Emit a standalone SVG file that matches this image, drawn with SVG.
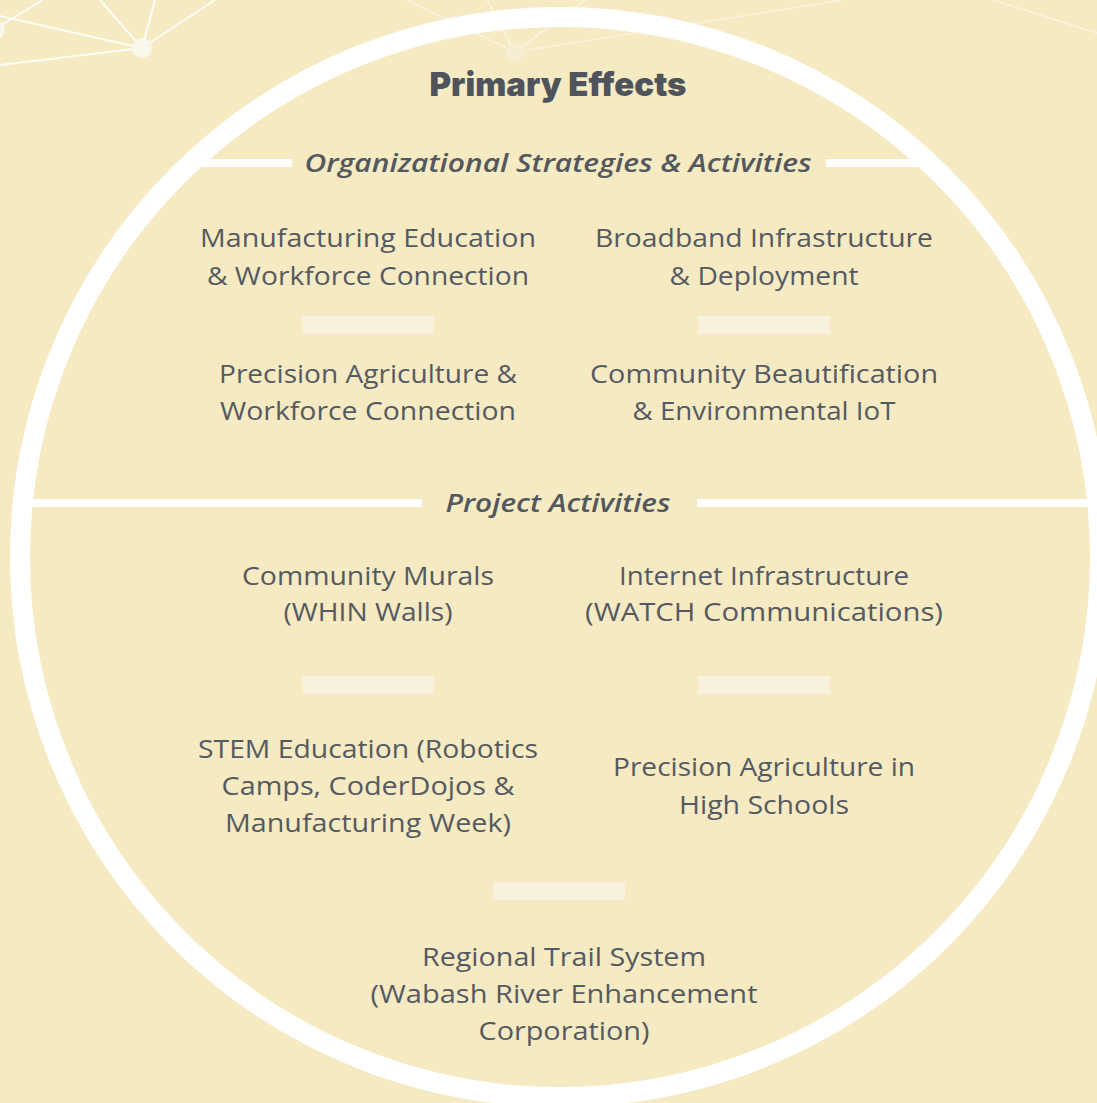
<svg xmlns="http://www.w3.org/2000/svg" width="1097" height="1103" viewBox="0 0 1097 1103">
  <style>
    .bg { fill: #F5EAC2; }
    .net1 { stroke: #FFFFFF; stroke-opacity: 0.85; stroke-width: 2; fill: none; }
    .net2 { stroke: #FFFFFF; stroke-opacity: 0.5; stroke-width: 1.6; fill: none; }
    .dot1 { fill: #FAF7EC; }
    .dot2 { fill: #F6EDD2; }
    .ring { fill: none; stroke: #FFFFFF; stroke-width: 20; }
    .rule { stroke: #FFFFFF; stroke-width: 8; }
    .bar { fill: #F8F1DD; }
    .title { font-family: Inter, "Open Sans", "Liberation Sans", sans-serif; font-weight: 900; font-size: 33px; fill: #4F545C; text-anchor: middle; }
    .head { font-family: "Open Sans", "Noto Sans", "Liberation Sans", sans-serif; font-weight: 600; font-style: italic; font-size: 26px; fill: #53585F; text-anchor: middle; }
    .body { font-family: "Open Sans", "Noto Sans", "Liberation Sans", sans-serif; font-weight: 400; font-size: 25px; fill: #555A62; text-anchor: middle; }
  </style>
  <rect class="bg" x="0" y="0" width="1097" height="1103"/>

  <g id="network">
    <line class="net1" x1="0" y1="16" x2="142" y2="48"/>
    <line class="net1" x1="0" y1="65" x2="142" y2="48"/>
    <line class="net1" x1="100" y1="0" x2="142" y2="48"/>
    <line class="net1" x1="155" y1="0" x2="142" y2="48"/>
    <line class="net1" x1="215" y1="0" x2="142" y2="48"/>
    <line class="net1" x1="0" y1="26" x2="43" y2="0"/>
    <circle class="dot1" cx="-5" cy="30" r="10"/>
    <circle class="dot1" cx="142" cy="48" r="10"/>
    <line class="net2" x1="407" y1="0" x2="515" y2="52"/>
    <line class="net2" x1="487" y1="0" x2="515" y2="52"/>
    <line class="net2" x1="585" y1="0" x2="515" y2="52"/>
    <line class="net2" x1="843" y1="0" x2="515" y2="52"/>
    <line class="net2" x1="993" y1="0" x2="1097" y2="33"/>
    <circle class="dot2" cx="515" cy="52" r="10"/>
  </g>

  <g id="connectors">
    <line class="rule" x1="185" y1="163" x2="292" y2="163"/>
    <line class="rule" x1="826" y1="163" x2="935" y2="163"/>
    <line class="rule" x1="25" y1="503" x2="422" y2="503"/>
    <line class="rule" x1="697" y1="503" x2="1095" y2="503"/>
    <rect class="bar" x="302" y="316" width="132" height="18"/>
    <rect class="bar" x="698" y="316" width="132" height="18"/>
    <rect class="bar" x="302" y="676" width="132" height="18"/>
    <rect class="bar" x="698" y="676" width="132" height="18"/>
    <rect class="bar" x="493" y="882" width="132" height="18"/>
  </g>

  <circle id="frame" class="ring" cx="560" cy="557" r="540"/>

  <g id="title">
    <text class="title" x="558" y="96" textLength="257" lengthAdjust="spacingAndGlyphs">Primary Effects</text>
  </g>
  <g id="heading-org">
    <text class="head" x="558" y="172" textLength="507" lengthAdjust="spacingAndGlyphs">Organizational Strategies &amp; Activities</text>
  </g>
  <g id="heading-project">
    <text class="head" x="558" y="512" textLength="225" lengthAdjust="spacingAndGlyphs">Project Activities</text>
  </g>

  <g id="node-manufacturing">
    <text class="body" x="368" y="247" textLength="336" lengthAdjust="spacingAndGlyphs">Manufacturing Education</text>
    <text class="body" x="368" y="285" textLength="322" lengthAdjust="spacingAndGlyphs">&amp; Workforce Connection</text>
  </g>
  <g id="node-broadband">
    <text class="body" x="764" y="247" textLength="338" lengthAdjust="spacingAndGlyphs">Broadband Infrastructure</text>
    <text class="body" x="764" y="285" textLength="189" lengthAdjust="spacingAndGlyphs">&amp; Deployment</text>
  </g>
  <g id="node-precision-ag">
    <text class="body" x="368" y="383" textLength="298" lengthAdjust="spacingAndGlyphs">Precision Agriculture &amp;</text>
    <text class="body" x="368" y="420" textLength="296" lengthAdjust="spacingAndGlyphs">Workforce Connection</text>
  </g>
  <g id="node-beautification">
    <text class="body" x="764" y="383" textLength="348" lengthAdjust="spacingAndGlyphs">Community Beautification</text>
    <text class="body" x="764" y="420" textLength="263" lengthAdjust="spacingAndGlyphs">&amp; Environmental IoT</text>
  </g>
  <g id="node-murals">
    <text class="body" x="368" y="585" textLength="252" lengthAdjust="spacingAndGlyphs">Community Murals</text>
    <text class="body" x="368" y="621" textLength="169" lengthAdjust="spacingAndGlyphs">(WHIN Walls)</text>
  </g>
  <g id="node-internet">
    <text class="body" x="764" y="585" textLength="290" lengthAdjust="spacingAndGlyphs">Internet Infrastructure</text>
    <text class="body" x="764" y="621" textLength="358" lengthAdjust="spacingAndGlyphs">(WATCH Communications)</text>
  </g>
  <g id="node-stem">
    <text class="body" x="368" y="758" textLength="340" lengthAdjust="spacingAndGlyphs">STEM Education (Robotics</text>
    <text class="body" x="368" y="795" textLength="293" lengthAdjust="spacingAndGlyphs">Camps, CoderDojos &amp;</text>
    <text class="body" x="368" y="832" textLength="286" lengthAdjust="spacingAndGlyphs">Manufacturing Week)</text>
  </g>
  <g id="node-precision-hs">
    <text class="body" x="764" y="776" textLength="302" lengthAdjust="spacingAndGlyphs">Precision Agriculture in</text>
    <text class="body" x="764" y="814" textLength="170" lengthAdjust="spacingAndGlyphs">High Schools</text>
  </g>
  <g id="node-trail">
    <text class="body" x="564" y="966" textLength="284" lengthAdjust="spacingAndGlyphs">Regional Trail System</text>
    <text class="body" x="564" y="1003" textLength="387" lengthAdjust="spacingAndGlyphs">(Wabash River Enhancement</text>
    <text class="body" x="564" y="1040" textLength="171" lengthAdjust="spacingAndGlyphs">Corporation)</text>
  </g>
</svg>
